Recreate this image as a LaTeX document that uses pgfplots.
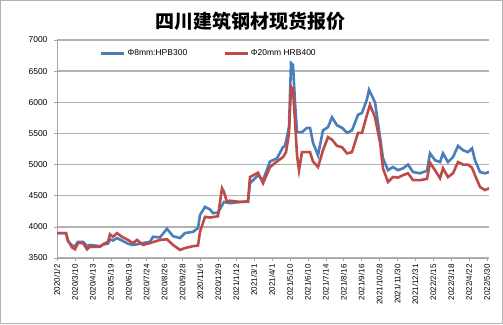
\documentclass[border=0pt]{standalone}
\usepackage{pgfplots}
\pgfplotsset{compat=1.18}
\usepackage{fontspec}
\setmainfont{Liberation Sans}
\newfontfamily\cjk{Noto Sans CJK SC}
\definecolor{sblue}{RGB}{74,126,187}
\definecolor{sred}{RGB}{190,75,72}
\begin{document}
\begin{tikzpicture}[x=1pt,y=1pt]
\useasboundingbox (0,0) rectangle (503,324);
\draw[gray!60, line width=1pt] (0.5,0.5) rectangle (502.5,323.5);
\node[font=\cjk\bfseries\fontsize{19}{23}\selectfont] at (250,303) {四川建筑钢材现货报价};
\begin{axis}[
  at={(57pt,66pt)}, anchor=south west,
  scale only axis, width=432pt, height=218pt,
  xmin=57, xmax=489, ymin=3500, ymax=7000,
  axis lines*=left,
  axis line style={gray!70, line width=0.8pt},
  tick align=outside,
  major tick length=3pt, minor tick length=3pt,
  tick style={gray!70, line width=0.5pt},
  ytick={3500,4000,4500,5000,5500,6000,6500,7000},
  yticklabels={3500,4000,4500,5000,5500,6000,6500,7000},
  ymajorgrids,
  grid style={gray!60, line width=1.3pt},
  xtick={57,74.92,92.83,110.75,128.67,146.58,164.5,182.42,200.33,218.25,236.17,254.08,272,289.92,307.83,325.75,343.67,361.58,379.5,397.42,415.33,433.25,451.17,469.08,487},
  xticklabels={2020/1/2,2020/3/10,2020/4/13,2020/5/19,2020/6/19,2020/7/24,2020/8/26,2020/9/28,2020/11/6,2020/12/9,2021/1/12,2021/3/1,2021/4/1,2021/5/10,2021/6/10,2021/7/14,2021/8/16,2021/9/16,2021/10/28,2021/11/30,2021/12/31,2022/2/15,2022/3/18,2022/4/22,2022/5/30},
  minor x tick num=8,
  x tick label style={rotate=90, anchor=east, font=\fontsize{8}{9}\selectfont},
  y tick label style={font=\fontsize{8.5}{10}\selectfont, xshift=-3pt},
  legend style={at={(0.092,0.975)}, anchor=north west, draw=none, fill=none,
    font=\fontsize{8.5}{10}\selectfont,
    /tikz/every even column/.append style={column sep=34pt}},
  legend columns=2,
  legend image code/.code={\draw[#1] (0pt,0pt) -- (23pt,0pt);},
]
\addplot[sblue, line width=2.6pt] coordinates {
(57,3900)(66,3900)(68,3770)(72,3700)(75,3690)(78,3760)(83,3760)(87,3690)(90,3710)(95,3700)
(100,3690)(104,3720)(108,3730)(110,3800)(113,3780)(117,3820)(122,3780)(128,3730)(133,3710)
(137,3720)(143,3740)(150,3760)(153,3840)(160,3830)(167,3970)(173,3850)(180,3820)(185,3900)
(193,3920)(198,3980)(200,4190)(205,4320)(210,4280)(213,4220)(218,4230)(224,4400)(230,4380)
(240,4400)(248,4400)(250,4700)(258,4830)(263,4750)(270,5050)(277,5100)(283,5280)(285,5300)
(289,5600)(291,6630)(293,6600)(295,6000)(297,5520)(302,5520)(307,5590)(310,5590)(313,5350)
(318,5150)(323,5550)(328,5600)(332,5760)(337,5630)(342,5590)(347,5510)(352,5550)(358,5800)
(362,5830)(367,6050)(369,6200)(372,6100)(375,6000)(380,5440)(383,5100)(388,4910)(393,4960)
(398,4910)(403,4940)(408,5000)(413,4880)(420,4860)(427,4900)(430,5180)(435,5070)(440,5040)
(443,5180)(448,5040)(453,5120)(458,5300)(463,5230)(468,5200)(472,5260)(475,5070)(480,4880)
(485,4860)(489,4880)
};
\addlegendentry{Φ8mm:HPB300}
\addplot[sred, line width=2.6pt] coordinates {
(57,3900)(66,3900)(68,3780)(72,3670)(75,3640)(78,3740)(83,3740)(87,3640)(90,3680)(100,3680)
(104,3730)(108,3760)(110,3880)(113,3840)(117,3900)(122,3840)(128,3790)(133,3740)(137,3790)
(143,3710)(150,3740)(160,3790)(167,3800)(173,3710)(180,3630)(185,3660)(193,3690)(198,3700)
(200,3920)(205,4160)(210,4150)(218,4170)(222,4620)(224,4560)(227,4400)(230,4420)(240,4400)
(248,4410)(250,4800)(258,4870)(263,4700)(270,4960)(277,5050)(283,5120)(286,5200)(289,5500)
(291,6250)(293,6200)(295,5700)(297,5150)(299,4910)(302,5200)(310,5200)(313,5050)(318,4960)
(323,5230)(328,5440)(332,5400)(337,5300)(342,5280)(347,5180)(352,5200)(358,5510)(362,5510)
(367,5800)(370,5960)(375,5760)(380,5360)(383,4940)(388,4720)(393,4800)(398,4790)(403,4830)
(408,4860)(413,4750)(420,4750)(427,4770)(430,5030)(435,4910)(440,4780)(443,4940)(448,4800)
(453,4860)(458,5040)(463,5000)(468,5000)(472,4950)(475,4830)(480,4640)(485,4590)(489,4620)
};
\addlegendentry{Φ20mm HRB400}
\end{axis}
\end{tikzpicture}
\end{document}
